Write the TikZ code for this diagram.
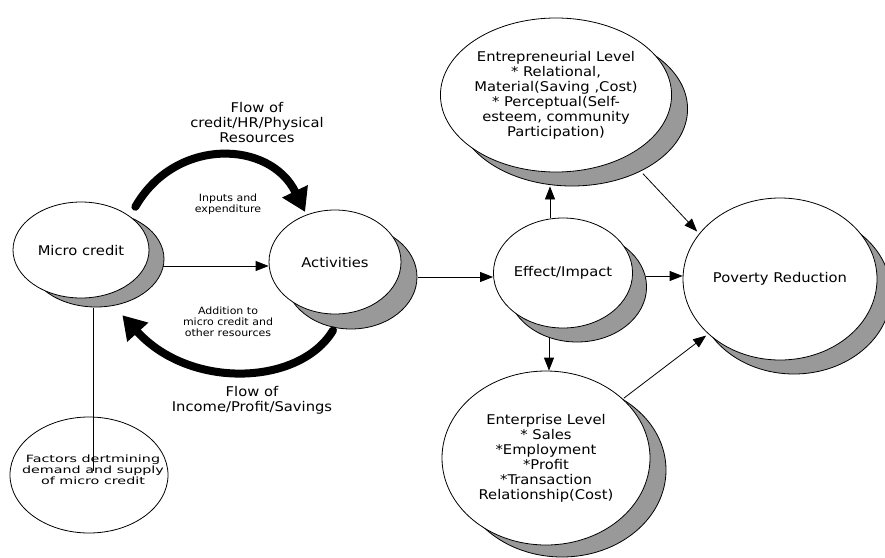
\documentclass[tikz,border=0pt]{standalone}
\usepackage{fontspec}
\setmainfont{DejaVu Sans}[FakeStretch=1.1]
\usetikzlibrary{shapes.geometric,shadows,arrows.meta}
\definecolor{shadegray}{RGB}{153,153,153}
\newcommand{\bigtxt}{\fontsize{13.4}{15}\selectfont}
\newcommand{\smalltxt}{\fontsize{10}{10.8}\selectfont}
\newcommand{\facttxt}{\fontsize{10}{11}\selectfont}

\tikzset{
  bubble/.style={ellipse, draw, fill=white, inner sep=0pt, align=center, font=\bigtxt, line width=0.8pt},
  dropsh/.style 2 args={drop shadow={shadow xshift=#1pt, shadow yshift=-#2pt, opacity=1, fill=shadegray, draw=black, line width=0.8pt}},
  arr/.style={-{Triangle[length=13pt,width=10pt]}, line width=0.8pt},
  bigarr/.style={-{Triangle[length=23pt,width=27pt]}, line width=8pt, line cap=round},
}

\begin{document}
\begin{tikzpicture}[x=1pt, y=-1pt]
  \useasboundingbox (0,0) rectangle (885,557);

  % Bubbles
  \node[bubble, dropsh={15}{9}, minimum width=136pt, minimum height=96pt] (mc) at (81,250) {Micro credit};
  \node[bubble, dropsh={16}{15}, minimum width=132pt, minimum height=104pt] (act) at (335,262) {Activities};
  \node[bubble, dropsh={14}{14}, minimum width=134pt, minimum height=110pt] (eff) at (563,273) {Effect/Impact};
  \node[bubble, dropsh={16}{14}, minimum width=196pt, minimum height=154pt] (ent) at (556,95)
    {Entrepreneurial Level\\* Relational,\\Material(Saving ,Cost)\\* Perceptual(Self-\\esteem, community\\Participation)};
  \node[bubble, dropsh={14}{14}, minimum width=194pt, minimum height=162pt] (pov) at (780,279) {Poverty Reduction};
  \node[bubble, dropsh={16}{12}, minimum width=208pt, minimum height=174pt] (enp) at (546,458)
    {Enterprise Level\\* Sales\\*Employment\\*Profit\\*Transaction\\Relationship(Cost)};
  \node[bubble, minimum width=158pt, minimum height=116pt] (fac) at (89,475) {};
  \node (factxt) at (93,471)
    {\scalebox{1.3}[1]{\facttxt\begin{tabular}{@{}c@{}}Factors dertmining\\demand and supply\\of micro credit\end{tabular}}};

  % Labels
  \node[align=center, font=\bigtxt] (flowin) at (257,123) {Flow of\\credit/HR/Physical\\Resources};
  \node[align=center, font=\smalltxt] (inputs) at (228,204) {Inputs and\\expenditure};
  \node[align=center, font=\smalltxt] (addit) at (228,322) {Addition to\\micro credit and\\other resources};
  \node[align=center, font=\bigtxt] (flowout) at (252,400) {Flow of\\Income/Profit/Savings};

  % Thick flows
  \draw[bigarr] ([shift={(6,-9)}]mc.north east) .. controls +(40,-70) and +(-35,-72) .. ([shift={(17,-13)}]act.north west);
  \draw[bigarr] ([shift={(-2,16)}]act.south) .. controls +(-33,55) and +(68,75) .. ([shift={(-7,31)}]mc.south east);

  % Connectors
  \draw[arr] ([shift={(14,16)}]mc.east) -- ([shift={(0,4)}]act.west);
  \draw[arr] ([shift={(17,15)}]act.east) -- ([shift={(0,4)}]eff.west);
  \draw[arr] ([shift={(13,3)}]eff.east) -- ([shift={(0,-3)}]pov.west);
  \draw[arr] ([shift={(-13,0)}]eff.north) -- ([shift={(-6,14)}]ent.south);
  \draw[arr] ([shift={(-14,9)}]eff.south) -- ([shift={(3,0)}]enp.north);
  \draw[arr] ([shift={(5,24)}]ent.south east) -- ([shift={(-14,10)}]pov.north west);
  \draw[arr] ([shift={(4,2)}]enp.north east) -- ([shift={(-5,-1)}]pov.south west);
  \draw[line width=0.8pt] ([shift={(12,58)}]mc.center) coordinate (mcb) -- (mcb |- factxt.center);
\end{tikzpicture}
\end{document}
